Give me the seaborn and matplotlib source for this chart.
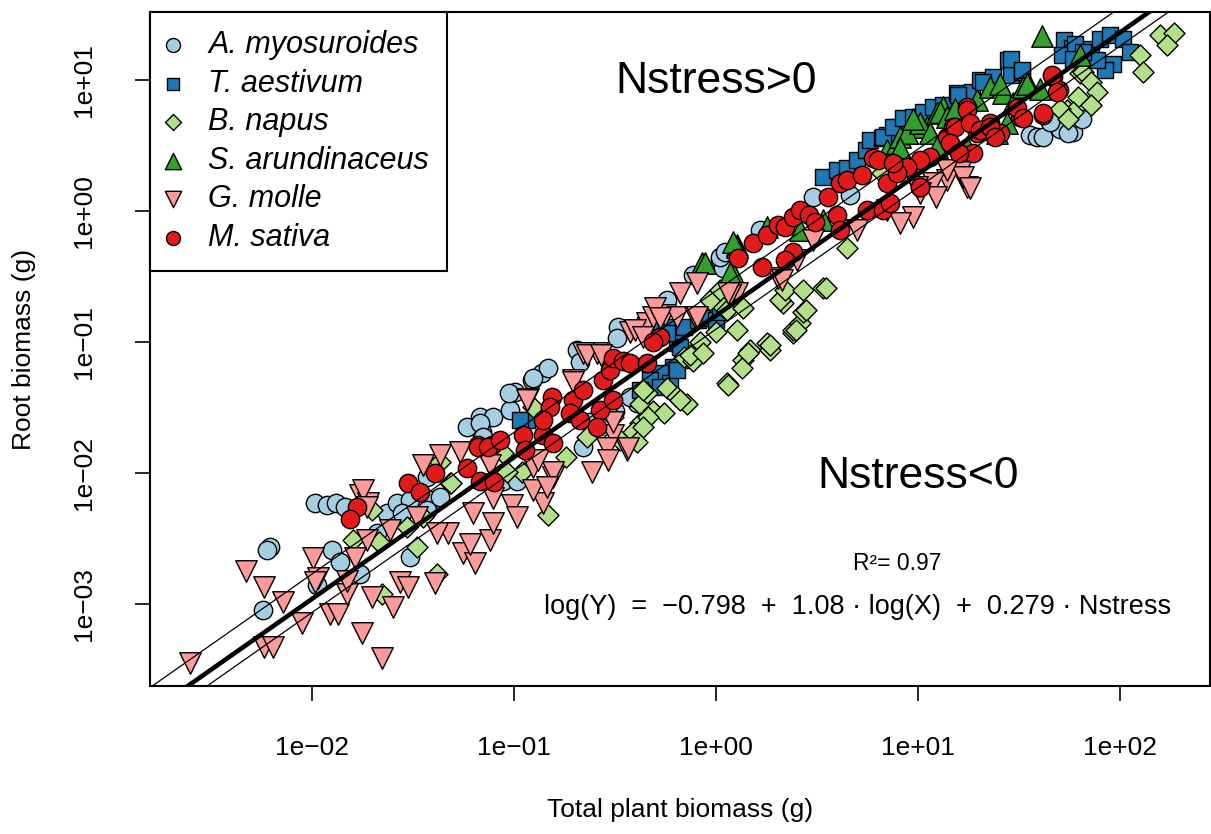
import matplotlib
matplotlib.use("Agg")
import matplotlib.pyplot as plt
import numpy as np
import pandas as pd
import seaborn as sns

# species order as in the legend
species = ["A. myosuroides", "T. aestivum", "B. napus",
           "S. arundinaceus", "G. molle", "M. sativa"]
colors = ["#A6CEE3", "#1F78B4", "#B2DF8A", "#33A02C", "#FB9A99", "#E31A1C"]
markers = ["o", "s", "D", "^", "v", "o"]
sizes = [175, 135, 115, 240, 240, 175]

# total plant biomass (g) / root biomass (g)
amyo_x = [0.0062, 0.0060, 0.0057, 0.0103, 0.0119, 0.0131, 0.0146, 0.0126, 0.0138, 0.0106,
          0.0173, 0.021, 0.0235, 0.0263, 0.068, 0.079, 0.068, 0.0306, 0.0385, 0.037,
          0.0306, 0.028, 0.037, 0.043, 0.0695, 0.101, 0.123, 0.138, 0.147, 0.096,
          0.088, 0.103, 0.124, 0.327, 0.324, 0.205, 0.212, 0.388, 0.407, 0.219,
          0.57, 0.77, 1.05, 1.08, 0.0585, 0.068, 0.094, 0.238, 0.0703, 0.375,
          0.316, 1.05, 1.11, 3.02, 4.6, 1.65, 35.8, 38.7, 41.6, 50.5,
          58.5, 64.9, 45, 55]
amyo_y = [0.00272, 0.0026, 0.0009, 0.0059, 0.0057, 0.0059, 0.0055, 0.00258, 0.0021, 0.0014,
          0.00172, 0.0035, 0.0050, 0.0059, 0.0267, 0.0267, 0.0213, 0.0062, 0.0062, 0.0052,
          0.0023, 0.0050, 0.0093, 0.0066, 0.0206, 0.0415, 0.0513, 0.058, 0.0634, 0.0303,
          0.0088, 0.0088, 0.053, 0.130, 0.107, 0.0869, 0.0703, 0.038, 0.0342, 0.0158,
          0.209, 0.325, 0.423, 0.37, 0.0224, 0.024, 0.041, 0.0245, 0.0188, 0.038,
          0.030, 0.446, 0.486, 1.28, 1.32, 0.716, 3.8, 3.67, 3.67, 4.23,
          4.01, 5.04, 4.77, 3.9]

taes_x = [0.47, 0.57, 0.69, 0.64, 0.69, 0.61, 0.53, 0.59, 0.47, 0.81,
          0.42, 0.93, 1.0, 0.445, 0.116, 0.107, 0.53, 0.64, 0.66, 0.57,
          1.05, 3.39, 3.97, 4.45, 5.0, 5.5, 5.8, 6.6, 7.0, 7.9,
          8.8, 6.7, 7.5, 8.4, 9.4, 10.6, 11.9, 13.3, 15.6, 18.5,
          20.2, 23.4, 27.8, 29, 32.6, 53, 57.5, 51.7, 60, 71.6,
          79.5, 89, 103, 92, 112, 84, 77, 65.7, 58.5, 29,
          32.6, 21, 15.8]
taes_y = [0.135, 0.13, 0.13, 0.098, 0.073, 0.0645, 0.058, 0.0487, 0.051, 0.147,
          0.043, 0.152, 0.147, 0.135, 0.0254, 0.0254, 0.0454, 0.061, 0.0916, 0.117,
          0.17, 1.82, 2.05, 2.13, 2.45, 2.92, 3.48, 3.6, 3.8, 4.38,
          4.7, 3.67, 4.38, 5.1, 5.2, 5.7, 6.2, 6.4, 7.9, 8.1,
          10.0, 10.5, 14.2, 10.9, 11.5, 20.2, 17.5, 15.5, 18.8, 17.3,
          20.6, 22, 20.6, 13.2, 16.4, 11.9, 14.2, 16.4, 14.5, 14.5,
          11.9, 9.6, 7.7]

bnap_x = [0.016, 0.0215, 0.0198, 0.0222, 0.043, 0.0416, 0.0294, 0.048, 0.033, 0.049,
          0.11, 0.124, 0.147, 0.088, 0.0355, 0.092, 0.18, 0.23, 0.267, 0.42,
          0.455, 0.488, 0.57, 0.64, 0.72, 0.42, 0.388, 0.309, 1.47, 1.36,
          1.13, 1.79, 1.85, 2.4, 2.15, 1.27, 1.08, 0.93, 0.69, 0.77,
          1.146, 1.35, 1.44, 1.85, 2.4, 2.6, 2.7, 2.07, 2.2, 2.7,
          3.39, 1.0, 0.83, 0.74, 0.86, 0.66, 0.55, 0.46, 0.435, 0.407,
          0.335, 0.435, 1.13, 1.36, 4.45, 3.5, 2.8, 2.5, 1.05, 6.6,
          54.5, 61.6, 63, 65.7, 71.6, 77, 71.6, 58.5, 50.5, 55,
          125, 130, 158, 184, 170]
bnap_y = [0.0031, 0.003, 0.0052, 0.00121, 0.0121, 0.00172, 0.00387, 0.0085, 0.00272, 0.0084,
          0.0102, 0.032, 0.0048, 0.0142, 0.0046, 0.0102, 0.0132, 0.0188, 0.0213, 0.034,
          0.041, 0.030, 0.045, 0.038, 0.034, 0.024, 0.0206, 0.0267, 0.0869, 0.073,
          0.0487, 0.098, 0.0869, 0.117, 0.199, 0.124, 0.185, 0.209, 0.0768, 0.072,
          0.047, 0.0634, 0.0824, 0.095, 0.124, 0.14, 0.17, 0.209, 0.249, 0.249,
          0.258, 0.119, 0.1, 0.0796, 0.0824, 0.036, 0.029, 0.0267, 0.0224, 0.0172,
          0.0178, 0.043, 0.175, 0.182, 0.52, 0.258, 0.175, 0.124, 0.249, 1.95,
          5.9, 7.4, 11.3, 11.5, 9.7, 8.1, 6.4, 5.7, 6.0, 5.0,
          15.5, 11.5, 22, 22.8, 18.5]

saru_x = [0.85, 1.27, 1.21, 0.88, 1.27, 1.79, 8.8, 11.1, 12.4, 13.3,
          7.0, 7.9, 1.21, 3.39, 8.15, 10.2, 8.8, 10.2, 11.5, 12.9,
          13.9, 19.5, 22.7, 26.3, 29.5, 33, 35, 24.6, 8.15, 12.4,
          41, 17.5, 27.4, 63, 25.4, 34.5, 40, 1.17, 9.4, 15.2,
          2.6]
saru_y = [0.40, 0.55, 0.336, 0.40, 0.53, 0.755, 3.94, 4.38, 5.6, 6.2,
          2.92, 3.3, 0.58, 0.85, 3.67, 4.38, 3.94, 4.7, 3.94, 5.7,
          5.2, 7.0, 8.8, 7.9, 6.7, 8.8, 9.5, 3.94, 3.03, 3.08,
          21.5, 3.08, 4.7, 15.5, 9.3, 9.3, 8.5, 0.336, 5.0, 6.0,
          0.716]

gmol_x = [0.0025, 0.0047, 0.0058, 0.0072, 0.0089, 0.0058, 0.0064, 0.0101, 0.0107, 0.0123,
          0.0134, 0.0149, 0.0177, 0.0198, 0.0222, 0.0252, 0.0187, 0.0163, 0.0173, 0.0189,
          0.0243, 0.0149, 0.043, 0.054, 0.070, 0.033, 0.047, 0.056, 0.064, 0.076,
          0.0416, 0.0273, 0.030, 0.0406, 0.0103, 0.0355, 0.0787, 0.0606, 0.0179, 0.0187,
          0.076, 0.117, 0.079, 0.098, 0.103, 0.139, 0.156, 0.124, 0.0627, 0.124,
          0.196, 0.258, 0.219, 0.309, 0.362, 0.288, 0.243, 0.156, 0.145, 0.1315,
          0.375, 0.42, 0.455, 0.488, 0.56, 0.64, 0.664, 0.805, 0.79, 1.27,
          0.23, 0.27, 0.397, 0.435, 0.50, 0.528, 0.806, 1.17, 0.196, 0.116,
          0.309, 0.366, 0.292, 1.146, 2.03, 17.5, 16.1, 13.9, 9.45, 8.15,
          11.9, 10.2, 7.0, 4.99, 3.02, 2.51, 2.12, 16.7, 13.9, 18.1,
          9.9, 12.2]
gmol_y = [0.00036, 0.0018, 0.00135, 0.00104, 0.00072, 0.00047, 0.00047, 0.00224, 0.0016, 0.00085,
          0.00085, 0.00121, 0.00061, 0.00113, 0.00039, 0.00095, 0.0031, 0.00224, 0.0068, 0.0059,
          0.0037, 0.00152, 0.0137, 0.0144, 0.0148, 0.0046, 0.0035, 0.00245, 0.00206, 0.0031,
          0.0035, 0.00147, 0.00135, 0.00145, 0.00147, 0.0115, 0.0042, 0.0029, 0.0074, 0.0055,
          0.0115, 0.037, 0.0065, 0.0057, 0.0046, 0.0059, 0.0093, 0.0111, 0.0050, 0.0074,
          0.0513, 0.0824, 0.0824, 0.0195, 0.015, 0.0157, 0.0102, 0.0102, 0.0078, 0.0126,
          0.119, 0.124, 0.14, 0.155, 0.16, 0.155, 0.237, 0.28, 0.155, 0.237,
          0.0796, 0.0796, 0.124, 0.11, 0.182, 0.153, 0.155, 0.229, 0.0495, 0.036,
          0.0245, 0.0155, 0.0126, 0.237, 0.308, 1.52, 1.99, 1.72, 0.90, 0.81,
          1.64, 1.37, 1.02, 0.716, 0.60, 0.423, 0.297, 1.82, 2.05, 1.5,
          1.52, 1.28]

msat_x = [0.0167, 0.0155, 0.030, 0.0344, 0.0406, 0.0585, 0.066, 0.0775, 0.068, 0.08,
          0.066, 0.074, 0.085, 0.111, 0.113, 0.139, 0.156, 0.154, 0.15, 0.196,
          0.189, 0.219, 0.212, 0.267, 0.276, 0.30, 0.309, 0.347, 0.375, 0.309,
          0.258, 0.139, 0.455, 0.528, 0.488, 1.28, 1.69, 1.52, 1.79, 2.03,
          2.2, 2.4, 2.6, 2.9, 3.1, 3.97, 3.6, 4.1, 4.45, 5.3,
          6.0, 6.3, 8.15, 8.9, 7.0, 10.2, 5.6, 6.7, 4.1, 2.4,
          2.2, 13.9, 14.9, 17.5, 19.5, 22.7, 25.4, 32, 41.6, 17.5,
          15.2, 18.1, 20.2, 22.7, 24, 14.4, 18.7, 11.5, 10.2, 8.8,
          7.9, 31, 33, 41.6, 46.6, 50, 7.5, 7.3, 10.2, 16,
          46, 48.5]
msat_y = [0.0055, 0.0045, 0.0084, 0.0072, 0.01, 0.0109, 0.0164, 0.0164, 0.0088, 0.0086,
          0.0158, 0.0158, 0.0179, 0.0195, 0.015, 0.0195, 0.017, 0.038, 0.032, 0.036,
          0.0287, 0.043, 0.0254, 0.0303, 0.0513, 0.0611, 0.0755, 0.072, 0.069, 0.036,
          0.0224, 0.0254, 0.069, 0.109, 0.1, 0.438, 0.374, 0.57, 0.656, 0.78,
          0.755, 0.9, 1.02, 0.93, 0.82, 0.93, 1.28, 1.64, 1.72, 1.88,
          2.54, 2.45, 2.17, 2.17, 1.64, 1.52, 1.02, 1.02, 0.716, 0.486,
          0.42, 3.67, 4.38, 6.2, 3.94, 4.7, 3.94, 5.2, 5.4, 5.9,
          4.38, 4.7, 4.15, 4.38, 3.67, 3.3, 2.77, 2.58, 2.45, 2.17,
          1.95, 6.1, 5.1, 5.6, 10.5, 8.4, 2.32, 1.15, 1.52, 2.77,
          10.8, 8.1]

# fitted model: log10(root) = a + b*log10(total) + c*Nstress
intercept = -0.798
slope = 1.08
nstress_coef = 0.279
nstress_levels = [0.68, -0.37]

xticks = [1e-2, 1e-1, 1e0, 1e1, 1e2]
xtick_labels = ["1e\u221202", "1e\u221201", "1e+00", "1e+01", "1e+02"]
yticks = [1e-3, 1e-2, 1e-1, 1e0, 1e1]
ytick_labels = ["1e\u221203", "1e\u221202", "1e\u221201", "1e+00", "1e+01"]

sns.set_theme(style="ticks")
plt.rcParams['font.family'] = ['Liberation Sans', 'DejaVu Sans']
plt.rcParams['text.color'] = 'black'
plt.rcParams['axes.labelcolor'] = 'black'

fig, ax = plt.subplots(figsize=(12.11, 8.34), dpi=100)
fig.subplots_adjust(left=0.124, right=0.999, bottom=0.177, top=0.986)

all_x = [amyo_x, taes_x, bnap_x, saru_x, gmol_x, msat_x]
all_y = [amyo_y, taes_y, bnap_y, saru_y, gmol_y, msat_y]
for name, xs, ys, c, m, s in zip(species, all_x, all_y, colors, markers, sizes):
    df = pd.DataFrame({"total": xs, "root": ys})
    sns.scatterplot(data=df, x="total", y="root", ax=ax, marker=m, s=s, color=c,
                    edgecolor="black", linewidth=1.0, label=name, zorder=2)

ax.set_xscale("log")
ax.set_yscale("log")
xlim = (0.00158, 278.0)
ylim = (0.000237, 33.1)

lx = np.logspace(np.log10(xlim[0]), np.log10(xlim[1]), 50)
ax.plot(lx, 10 ** (intercept + slope * np.log10(lx)), color="black", lw=3.3, zorder=3)
for n in nstress_levels:
    ax.plot(lx, 10 ** (intercept + slope * np.log10(lx) + nstress_coef * n),
            color="black", lw=0.9, zorder=3)

ax.set_xlim(xlim)
ax.set_ylim(ylim)
ax.minorticks_off()
ax.set_xticks(xticks)
ax.set_xticklabels(xtick_labels)
ax.set_yticks(yticks)
ax.set_yticklabels(ytick_labels, rotation=90, va="center")
ax.tick_params(direction="out", length=11, width=1.2, labelsize=19, colors="black")
ax.tick_params(axis="x", pad=25)
ax.tick_params(axis="y", pad=28)
for sp in ax.spines.values():
    sp.set_linewidth(1.5)
    sp.set_color("black")
    sp.set_visible(True)

ax.set_xlabel("Total plant biomass (g)", fontsize=19, labelpad=27)
ax.set_ylabel("Root biomass (g)", fontsize=19, labelpad=26)

leg = ax.legend(loc="upper left", bbox_to_anchor=(0, 1), borderaxespad=0,
                frameon=True, fancybox=False, edgecolor="black", framealpha=1,
                prop={"style": "italic", "size": 22}, markerscale=0.76,
                handletextpad=1.0, labelspacing=0.28, borderpad=0.6,
                handlelength=0.3)
leg.get_frame().set_linewidth(1.5)

ax.text(0.534, 0.896, "Nstress>0", transform=ax.transAxes, ha="center", va="center", fontsize=32)
ax.text(0.7245, 0.3116, "Nstress<0", transform=ax.transAxes, ha="center", va="center", fontsize=32)
ax.text(0.705, 0.1825, "R\u00b2= 0.97", transform=ax.transAxes, ha="center", va="center", fontsize=16.5)
ax.text(0.668, 0.118, "log(Y)  =  \u22120.798  +  1.08 \u00b7 log(X)  +  0.279 \u00b7 Nstress",
        transform=ax.transAxes, ha="center", va="center", fontsize=19.5)

fig.savefig("out.png", dpi=100)
